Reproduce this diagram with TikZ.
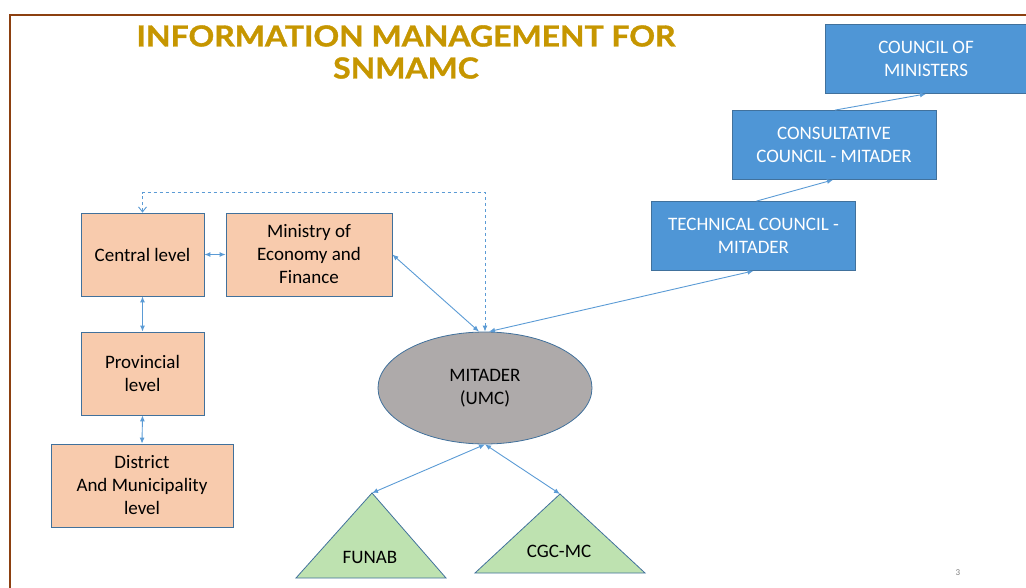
\documentclass[tikz,border=0pt]{standalone}
\usepackage{fontspec}
\setmainfont{Carlito}
\newfontfamily\titlefont[BoldFeatures={FakeStretch=1.1,FakeBold=1.2}]{Lato}
\usetikzlibrary{arrows.meta,shapes.geometric,calc}
\definecolor{frame}{RGB}{140,64,16}
\definecolor{titlec}{RGB}{198,150,0}
\definecolor{peach}{RGB}{248,203,173}
\definecolor{edgeb}{RGB}{65,113,156}
\definecolor{bluebox}{RGB}{79,150,214}
\definecolor{linkc}{RGB}{91,155,213}
\definecolor{grayfill}{RGB}{174,170,170}
\definecolor{greenfill}{RGB}{190,226,176}
\tikzset{
  txt/.style={font=\fontsize{19}{23}\selectfont, align=center},
  peachbox/.style={txt, draw=edgeb, line width=0.8pt, fill=peach, inner sep=0pt},
  bluebx/.style={txt, draw=edgeb, line width=0.8pt, fill=bluebox, text=white, inner sep=0pt},
  link/.style={draw=linkc, line width=0.9pt},
  both/.style={link, {Latex[length=6pt,width=5pt]}-{Latex[length=6pt,width=5pt]}},
  one/.style={link, -{Latex[length=6pt,width=5pt]}},
  tri/.style={draw=edgeb, line width=0.8pt, fill=greenfill},
}
\begin{document}
\begin{tikzpicture}[x=1pt,y=-1pt]
\useasboundingbox (0,0) rectangle (1026,588);
% frame
\draw[frame, line width=2pt] (10,590) -- (10,15) -- (1028,15);
% title
\node[titlec, font=\titlefont\bfseries\fontsize{29}{32}\selectfont, align=center] (title) at (406,52) {INFORMATION MANAGEMENT FOR\\SNMAMC};
% left boxes
\node[peachbox, minimum width=123, minimum height=83] (central) at (142.5,254.5) {Central level};
\node[peachbox, minimum width=166, minimum height=83] (mef) at (309,254.5) {Ministry of\\Economy and\\Finance};
\node[peachbox, minimum width=123, minimum height=83] (prov) at (142.5,373.5) {Provincial\\level};
\node[peachbox, minimum width=182, minimum height=83] (dist) at (142,485.5) {District\\And Municipality\\level};
% ellipse
\node[ellipse, draw=edgeb, line width=0.8pt, fill=grayfill, minimum width=214, minimum height=112, txt] (mit) at (485,388) {MITADER\\(UMC)};
% blue boxes
\node[bluebx, minimum width=204, minimum height=69] (tech) at (753.5,236) {TECHNICAL COUNCIL -\\MITADER};
\node[bluebx, minimum width=204, minimum height=69] (cons) at (834,145) {CONSULTATIVE\\COUNCIL - MITADER};
\node[bluebx, minimum width=202, minimum height=69] (com) at (926,59) {COUNCIL OF\\MINISTERS};
% triangles
\coordinate (funtop) at (372,493);
\coordinate (cgctop) at (560,494);
\draw[tri] (funtop) -- (446,578) -- (296,578) -- cycle;
\draw[tri] (cgctop) -- (645,573) -- (475,573) -- cycle;
\node[txt] (funab) at (370,557) {FUNAB};
\node[txt] (cgc) at (559,551) {CGC-MC};
% page number
\node[gray, font=\fontsize{9}{10}\selectfont] (pg) at (958,573) {3};
% connectors
\draw[both] (central.east) -- (mef.west);
\draw[both] (central.south) -- (prov.north);
\draw[both] (prov.south) -- (dist.north);
\draw[both] (mef.east) -- ($(mit.north)+(-6,0)$);
\draw[link, dashed, {Straight Barb[length=5pt,width=8pt]}-{Latex[length=6pt,width=5pt]}] (central.north) -- ++(0,-20) -| (mit.north);
\draw[both] (tech.south) -- ($(mit.north)+(4,0)$);
\draw[one] ($(tech.north)+(3,0)$) -- ($(cons.south)+(-1,0)$);
\draw[one] ($(cons.north)+(1,0)$) -- (com.south);
\draw[both] (funtop) -- (mit.south);
\draw[both] (cgctop) -- (mit.south);
\end{tikzpicture}
\end{document}
